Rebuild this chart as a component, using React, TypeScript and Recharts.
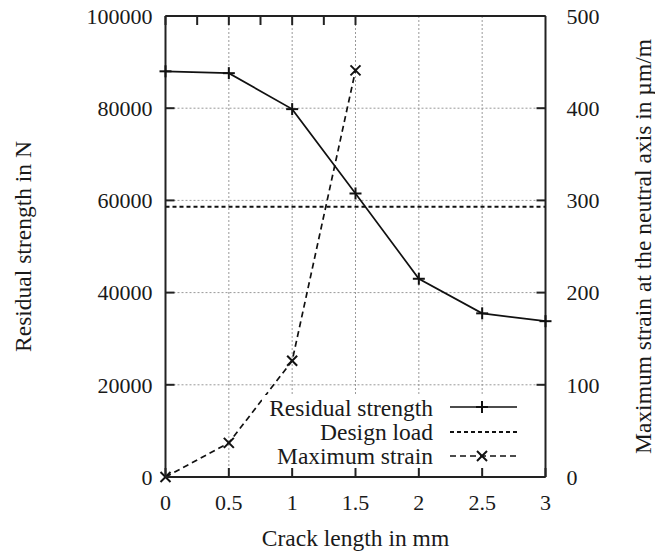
import React from 'react';
import {
  LineChart,
  Line,
  XAxis,
  YAxis,
  CartesianGrid,
  ReferenceLine,
} from 'recharts';

// Crack length (mm) on the x axis
const crackLength = [0, 0.5, 1, 1.5, 2, 2.5, 3];
// Residual strength (N), left axis
const residualStrength = [88000, 87600, 79800, 61500, 43000, 35500, 33800];
// Maximum strain at the neutral axis (µm/m), right axis
const maxStrain: (number | null)[] = [0, 37, 126, 441, null, null, null];
// Design load (N), constant
const designLoad = 58600;

const xTicks = [0, 0.5, 1, 1.5, 2, 2.5, 3];
const leftTicks = [0, 20000, 40000, 60000, 80000, 100000];
const rightTicks = [0, 100, 200, 300, 400, 500];

const rows = crackLength.map((x, i) => ({
  x,
  residual: residualStrength[i],
  strain: maxStrain[i],
}));

const FONT = "'Liberation Serif', 'DejaVu Serif', serif";
const INK = '#1a1a1a';
const AXIS = '#222';
const TICK_FS = 22;
const LABEL_FS = 23.5;
const TICK_LEN = 9;

const LeftTick = (props: any) => {
  const { x, y, payload } = props;
  return (
    <g>
      <line x1={x + 13} x2={x + 13 + TICK_LEN} y1={y} y2={y} stroke={AXIS} strokeWidth={2} />
      <text x={x} y={y} dy="0.35em" textAnchor="end" fontFamily={FONT} fontSize={TICK_FS} fill={INK}>
        {payload.value}
      </text>
    </g>
  );
};

const RightTick = (props: any) => {
  const { x, y, payload } = props;
  return (
    <g>
      <line x1={x - 21} x2={x - 21 - TICK_LEN} y1={y} y2={y} stroke={AXIS} strokeWidth={2} />
      <text x={x} y={y} dy="0.35em" textAnchor="start" fontFamily={FONT} fontSize={TICK_FS} fill={INK}>
        {payload.value}
      </text>
    </g>
  );
};

const BottomTick = (props: any) => {
  const { x, y, payload } = props;
  return (
    <g>
      <line x1={x} x2={x} y1={y} y2={y - TICK_LEN} stroke={AXIS} strokeWidth={2} />
      <text x={x} y={y + 33} textAnchor="middle" fontFamily={FONT} fontSize={TICK_FS} fill={INK}>
        {payload.value}
      </text>
    </g>
  );
};

const TopTick = (props: any) => {
  const { x, y } = props;
  return (
    <g>
      <line x1={x} x2={x} y1={y} y2={y + TICK_LEN} stroke={AXIS} strokeWidth={2} />
    </g>
  );
};

const PlusDot = (props: any) => {
  const { cx, cy, index } = props;
  if (cx == null || cy == null) return <g key={`p${index}`} />;
  const r = 6;
  return (
    <g key={`p${index}`}>
      <line x1={cx - r} x2={cx + r} y1={cy} y2={cy} stroke="#111" strokeWidth={2} />
      <line x1={cx} x2={cx} y1={cy - r} y2={cy + r} stroke="#111" strokeWidth={2} />
    </g>
  );
};

const CrossDot = (props: any) => {
  const { cx, cy, index } = props;
  if (cx == null || cy == null) return <g key={`c${index}`} />;
  const r = 5;
  return (
    <g key={`c${index}`}>
      <line x1={cx - r} x2={cx + r} y1={cy - r} y2={cy + r} stroke="#111" strokeWidth={2} />
      <line x1={cx - r} x2={cx + r} y1={cy + r} y2={cy - r} stroke="#111" strokeWidth={2} />
    </g>
  );
};

export default function App() {
  return (
    <div style={{ position: 'absolute', left: 0, top: 0, width: 655, height: 554, background: '#fff' }}>
      <LineChart
        width={655}
        height={554}
        data={rows}
        margin={{ top: 15, right: 29.5, bottom: 17, left: 85.5 }}
      >
        <CartesianGrid
          yAxisId="left"
          stroke="#999"
          strokeDasharray="2 2"
          strokeWidth={1}
        />
        <XAxis
          dataKey="x"
          type="number"
          domain={[0, 3]}
          ticks={xTicks}
          interval={0}
          height={60}
          tickSize={0}
          tickMargin={0}
          tickLine={false}
          axisLine={{ stroke: AXIS, strokeWidth: 2 }}
          tick={<BottomTick />}
        />
        <XAxis
          xAxisId="top"
          orientation="top"
          type="number"
          domain={[0, 3]}
          ticks={xTicks}
          interval={0}
          height={1}
          tickSize={0}
          tickMargin={0}
          tickLine={false}
          axisLine={{ stroke: AXIS, strokeWidth: 2 }}
          tick={<TopTick />}
        />
        <YAxis
          yAxisId="left"
          type="number"
          domain={[0, 100000]}
          ticks={leftTicks}
          interval={0}
          width={80}
          tickSize={0}
          tickMargin={13}
          tickLine={false}
          axisLine={{ stroke: AXIS, strokeWidth: 2 }}
          tick={<LeftTick />}
        />
        <YAxis
          yAxisId="right"
          orientation="right"
          type="number"
          domain={[0, 500]}
          ticks={rightTicks}
          interval={0}
          width={80}
          tickSize={0}
          tickMargin={21}
          tickLine={false}
          axisLine={{ stroke: AXIS, strokeWidth: 2 }}
          tick={<RightTick />}
        />
        <ReferenceLine
          yAxisId="left"
          y={designLoad}
          stroke="#111"
          strokeWidth={2}
          strokeDasharray="4 3"
        />
        <Line
          yAxisId="left"
          dataKey="residual"
          type="linear"
          stroke="#111"
          strokeWidth={1.7}
          dot={PlusDot}
          activeDot={false}
          isAnimationActive={false}
        />
        <Line
          yAxisId="right"
          dataKey="strain"
          type="linear"
          stroke="#111"
          strokeWidth={1.7}
          strokeDasharray="6 4"
          connectNulls={false}
          dot={CrossDot}
          activeDot={false}
          isAnimationActive={false}
        />
      </LineChart>

      {/* Axis titles and key drawn on top of the plot */}
      <svg
        width={655}
        height={554}
        style={{ position: 'absolute', left: 0, top: 0, pointerEvents: 'none' }}
      >
        <text
          transform="translate(31, 246.5) rotate(-90)"
          textAnchor="middle"
          fontFamily={FONT}
          fontSize={LABEL_FS}
          fill={INK}
        >
          Residual strength in N
        </text>
        <text
          transform="translate(651, 246.5) rotate(-90)"
          textAnchor="middle"
          fontFamily={FONT}
          fontSize={LABEL_FS}
          fill={INK}
        >
          Maximum strain at the neutral axis in µm/m
        </text>
        <text x={355.5} y={546} textAnchor="middle" fontFamily={FONT} fontSize={LABEL_FS} fill={INK}>
          Crack length in mm
        </text>

        <rect x={262} y={395} width={275} height={72} fill="#fff" />
        <text x={433} y={415.5} textAnchor="end" fontFamily={FONT} fontSize={LABEL_FS} fill={INK}>
          Residual strength
        </text>
        <line x1={450} x2={517} y1={407} y2={407} stroke="#111" strokeWidth={1.7} />
        <line x1={476} x2={488} y1={407} y2={407} stroke="#111" strokeWidth={2} />
        <line x1={482} x2={482} y1={401} y2={413} stroke="#111" strokeWidth={2} />

        <text x={433} y={439.5} textAnchor="end" fontFamily={FONT} fontSize={LABEL_FS} fill={INK}>
          Design load
        </text>
        <line x1={450} x2={517} y1={432} y2={432} stroke="#111" strokeWidth={2} strokeDasharray="4 3" />

        <text x={433} y={463.5} textAnchor="end" fontFamily={FONT} fontSize={LABEL_FS} fill={INK}>
          Maximum strain
        </text>
        <line x1={450} x2={517} y1={456} y2={456} stroke="#111" strokeWidth={1.7} strokeDasharray="6 4" />
        <line x1={477} x2={487} y1={451} y2={461} stroke="#111" strokeWidth={2} />
        <line x1={477} x2={487} y1={461} y2={451} stroke="#111" strokeWidth={2} />
      </svg>
    </div>
  );
}
